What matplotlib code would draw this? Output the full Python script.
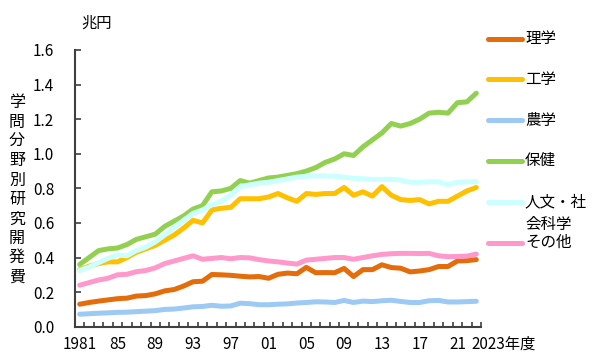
import matplotlib
matplotlib.use("Agg")
import matplotlib.pyplot as plt
import matplotlib.transforms as mtransforms
import numpy as np

plt.rcParams['font.family'] = ['Noto Sans CJK JP', 'DejaVu Sans']

years = list(range(1981, 2024))

rigaku = [0.130, 0.140, 0.148, 0.155, 0.162, 0.165, 0.177, 0.180, 0.190, 0.207,
          0.215, 0.235, 0.260, 0.263, 0.302, 0.300, 0.297, 0.292, 0.288, 0.290,
          0.280, 0.303, 0.310, 0.306, 0.343, 0.312, 0.313, 0.312, 0.337, 0.290,
          0.330, 0.330, 0.358, 0.342, 0.338, 0.317, 0.322, 0.330, 0.348, 0.348,
          0.380, 0.382, 0.388]
kougaku = [0.330, 0.350, 0.365, 0.375, 0.375, 0.400, 0.430, 0.450, 0.470, 0.500,
           0.530, 0.570, 0.615, 0.600, 0.675, 0.685, 0.690, 0.740, 0.740, 0.740,
           0.750, 0.770, 0.745, 0.725, 0.770, 0.765, 0.770, 0.770, 0.805, 0.760,
           0.780, 0.755, 0.810, 0.760, 0.735, 0.730, 0.735, 0.710, 0.725, 0.725,
           0.755, 0.785, 0.805]
nougaku = [0.072, 0.075, 0.078, 0.080, 0.083, 0.084, 0.087, 0.090, 0.093, 0.100,
           0.102, 0.108, 0.115, 0.117, 0.124, 0.118, 0.120, 0.136, 0.133, 0.127,
           0.127, 0.130, 0.132, 0.137, 0.140, 0.144, 0.143, 0.140, 0.152, 0.140,
           0.148, 0.145, 0.150, 0.153, 0.146, 0.140, 0.140, 0.150, 0.152, 0.143,
           0.143, 0.145, 0.147]
hoken = [0.360, 0.400, 0.440, 0.450, 0.455, 0.475, 0.505, 0.520, 0.535, 0.580,
         0.610, 0.640, 0.680, 0.700, 0.780, 0.785, 0.800, 0.845, 0.830, 0.845,
         0.860, 0.865, 0.875, 0.885, 0.900, 0.920, 0.950, 0.970, 1.000, 0.990,
         1.040, 1.080, 1.120, 1.175, 1.160, 1.175, 1.200, 1.235, 1.240, 1.235,
         1.295, 1.300, 1.350]
jinbun = [0.325, 0.345, 0.370, 0.395, 0.415, 0.410, 0.440, 0.460, 0.490, 0.530,
          0.575, 0.615, 0.655, 0.675, 0.705, 0.725, 0.760, 0.810, 0.820, 0.830,
          0.835, 0.845, 0.855, 0.865, 0.870, 0.872, 0.872, 0.870, 0.865, 0.858,
          0.855, 0.852, 0.852, 0.852, 0.848, 0.835, 0.835, 0.838, 0.838, 0.820,
          0.835, 0.838, 0.838]
sonota = [0.240, 0.255, 0.270, 0.280, 0.300, 0.303, 0.318, 0.325, 0.340, 0.365,
          0.380, 0.395, 0.410, 0.390, 0.395, 0.400, 0.393, 0.400, 0.398, 0.388,
          0.380, 0.375, 0.368, 0.362, 0.385, 0.390, 0.395, 0.400, 0.400, 0.390,
          0.400, 0.410, 0.418, 0.422, 0.424, 0.424, 0.423, 0.424, 0.410, 0.405,
          0.406, 0.408, 0.420]

series_names = ['理学', '工学', '農学', '保健', '人文・社\n会科学', 'その他']
series_values = [rigaku, kougaku, nougaku, hoken, jinbun, sonota]
series_colors = ['#E46C0A', '#FFC000', '#9DC9F5', '#92D050', '#CCFFFF', '#FF99CC']

xtick_pos = [1981, 1985, 1989, 1993, 1997, 2001, 2005, 2009, 2013, 2017, 2021]
xtick_labels = ['1981', '85', '89', '93', '97', '01', '05', '09', '13', '17', '21']
ytick_pos = [0.0, 0.2, 0.4, 0.6, 0.8, 1.0, 1.2, 1.4, 1.6]

W, H = 600, 360
fig = plt.figure(figsize=(6, 3.6), dpi=100)
fig.patch.set_facecolor('white')
ax = fig.add_axes([75 / W, 1 - 326.7 / H, (481 - 75) / W, (326.7 - 50) / H])

for vals, col in zip(series_values, series_colors):
    ax.plot(years, vals, color=col, lw=3.6, solid_capstyle='round',
            solid_joinstyle='round')

ax.set_xlim(1980.5, 2023.5)
ax.set_ylim(0, 1.6)
for s in ['top', 'right']:
    ax.spines[s].set_visible(False)
for s in ['left', 'bottom']:
    ax.spines[s].set_color('#404040')
    ax.spines[s].set_linewidth(1.5)

ax.set_yticks(ytick_pos)
ax.set_yticklabels([f'{v:.1f}' for v in ytick_pos])
ax.tick_params(axis='y', direction='in', length=4, width=1.2, color='#404040',
               pad=15, labelsize=11)
ax.set_xticks(xtick_pos)
ax.set_xticklabels(xtick_labels)
ax.set_xticks(np.arange(1980.5, 2023.6, 1.0), minor=True)
ax.tick_params(axis='x', which='major', length=0, pad=7, labelsize=11)
ax.tick_params(axis='x', which='minor', direction='in', length=3.5, width=1.2,
               color='#404040')

trans = mtransforms.blended_transform_factory(ax.transData, ax.transAxes)
ax.text(2022.45, -0.064, '2023年度', transform=trans, ha='left',
        va='center', fontsize=11)

fig.text(97 / W, 1 - 23 / H, '兆円', ha='center', va='center', fontsize=11)
fig.text(17 / W, 1 - 190 / H, '\n'.join('学問分野別研究開発費'), ha='center',
         va='center', fontsize=11.5, linespacing=1.18)

# legend
lax = fig.add_axes([0, 0, 1, 1])
lax.set_xlim(0, W)
lax.set_ylim(H, 0)
lax.axis('off')
leg_top, leg_step = 38.5, 40.8
for i, (name, col) in enumerate(zip(series_names, series_colors)):
    y = leg_top + i * leg_step
    lax.plot([488, 522], [y, y], color=col, lw=3.6, solid_capstyle='round')
    lax.text(525, y - 8.5, name, ha='left', va='top', fontsize=11.2,
             linespacing=1.45)

fig.savefig('out.png', dpi=100, facecolor='white')
